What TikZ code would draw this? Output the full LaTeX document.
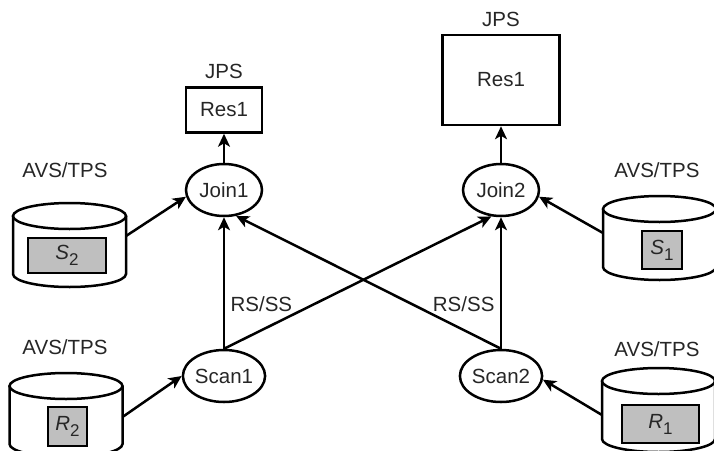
\documentclass[tikz,border=0pt]{standalone}
\usepackage{fontspec}
\setmainfont{Liberation Sans}
\usetikzlibrary{shapes.geometric, arrows.meta, positioning}

\newcommand{\relsym}[2]{\textit{#1}\raisebox{-6pt}{\fontsize{17}{17}\selectfont #2}}

\tikzset{
  disk/.pic={
    \draw[line width=2.5pt, fill=white] (-56.5,0) -- (-56.5,58) arc[start angle=180, end angle=0, x radius=56.5, y radius=13] -- (56.5,0);
    \draw[line width=2.5pt, fill=white] (0,0) ellipse[x radius=56.5, y radius=13];
    \coordinate (-e) at (56.5,#1);
    \coordinate (-w) at (-56.5,#1);
  }
}

\begin{document}
\begin{tikzpicture}[
  x=1pt, y=-1pt,
  every node/.style={font=\fontsize{20.5}{24}\selectfont, text=black!85},
  proc/.style={ellipse, draw=black, line width=2.5pt, minimum width=76pt, minimum height=52pt, inner sep=0pt},
  res/.style={rectangle, draw=black, line width=2.5pt, inner sep=0pt},
  rel/.style={rectangle, draw=black, line width=2.5pt, fill=black!25, inner sep=0pt},
  arrow/.style={-{Stealth[length=13pt, width=12pt, inset=3.5pt]}, line width=2.5pt}
]
\useasboundingbox (0,0) rectangle (714,450);
\clip (0,0) rectangle (714,450);

% Storage
\pic (s2disk) at (69.5,216) {disk=20};
\pic (r2disk) at (66,386) {disk=31};
\pic (s1disk) at (659.5,209) {disk=24};
\pic (r1disk) at (658.5,381) {disk=34};

\node[rel, minimum width=78pt, minimum height=35pt] (s2) at (67,255.5) {\relsym{S}{2}};
\node[rel, minimum width=39pt, minimum height=39pt] (r2) at (67.5,426.5) {\relsym{R}{2}};
\node[rel, minimum width=40pt, minimum height=38pt] (s1) at (662,250) {\relsym{S}{1}};
\node[rel, minimum width=77pt, minimum height=38pt] (r1) at (660.5,424) {\relsym{R}{1}};

\node (s2lbl) at (65,170) {AVS/TPS};
\node (r2lbl) at (65,347) {AVS/TPS};
\node (s1lbl) at (657,170) {AVS/TPS};
\node (r1lbl) at (657,349) {AVS/TPS};

% Operators
\node[proc] (join1) at (224,190) {Join1};
\node[proc] (join2) at (501,190) {Join2};
\node[proc] (scan1) at (224,376) {Scan1};
\node[proc] (scan2) at (501,376) {Scan2};

% Results
\node[res, minimum width=76pt, minimum height=45pt] (res1a) at (224,110) {Res1};
\node[res, minimum width=117pt, minimum height=90pt] (res1b) at (501,80) {Res1};
\node (jps1) at (224,71) {JPS};
\node (jps2) at (501,19) {JPS};

% Arrows
\draw[arrow] (join1) -- (res1a);
\draw[arrow] (join2) -- (res1b);
\draw[arrow] (s2disk-e) -- (join1.190);
\draw[arrow] (r2disk-e) -- (scan1.west);
\draw[arrow] (s1disk-w) -- (join2.350);
\draw[arrow] (r1disk-w) -- (scan2.355);
\draw[arrow] (scan1.north) -- (join1.south) node[pos=0.34, right=2pt] {RS/SS};
\draw[arrow] (scan2.north) -- (join2.south) node[pos=0.34, left=2pt] {RS/SS};
\draw[arrow] (scan1.north) -- (join2.250);
\draw[arrow] (scan2.north) -- (join1.295);

\end{tikzpicture}
\end{document}
